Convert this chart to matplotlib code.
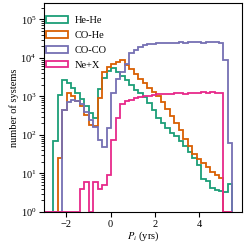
import numpy as np
import matplotlib
matplotlib.use("Agg")
import matplotlib.pyplot as plt
from matplotlib.patches import Patch

plt.rcParams["font.family"] = ["Liberation Serif", "DejaVu Serif"]
plt.rcParams["mathtext.fontset"] = "stix"
plt.rcParams["font.size"] = 7.5

# histogram bins in log10 P_i (yrs): 42 bins from -3 to 5.5
BIN_LO = -3.0
BIN_HI = 5.5
N_BINS = 42

LABELS = ["He-He", "CO-He", "CO-CO", "Ne+X"]
COLORS = ["#1b9e77", "#d95f02", "#7570b3", "#e7298a"]

# counts per bin
he_he = [0, 0, 68, 1100, 2650, 2200, 1700, 1200, 850, 560,
         360, 270, 1600, 3000, 4600, 5300, 4400, 3450, 2600, 2000,
         1500, 1200, 950, 660, 440, 280, 200, 148, 112, 93,
         71, 50, 35, 25, 16.5, 7, 6.3, 4.2, 3.8, 3.5,
         3.2, 5.2]
co_he = [0, 0, 0, 25, 440, 1190, 1000, 780, 560, 330,
         180, 170, 900, 4300, 5800, 6800, 7800, 8900, 6600, 5200,
         3800, 2900, 2200, 1660, 1320, 1050, 710, 480, 316, 200,
         135, 80, 50, 32, 23, 19, 15, 11, 9, 7.5,
         0, 0]
co_co = [0, 0, 0, 0, 450, 720, 800, 780, 620, 400,
         240, 160, 73, 48, 150, 1200, 2800, 4200, 7000, 13000,
         16500, 19500, 21000, 22500, 23500, 24000, 24500, 24800, 25000, 24700,
         25200, 25000, 25300, 25100, 25400, 25000, 25300, 25200, 25500, 25000,
         8700, 60]
ne_x = [0, 0, 0, 0, 0, 0, 0, 0, 4, 6,
        0, 6, 4, 5, 9, 75, 280, 630, 760, 830,
        900, 950, 1000, 1050, 1100, 1120, 1150, 1180, 1150, 1200,
        1220, 1180, 1240, 1260, 1220, 1280, 1250, 1300, 1260, 1240,
        0, 0]

SERIES = [he_he, co_he, co_co, ne_x]


def main():
    edges = np.linspace(BIN_LO, BIN_HI, N_BINS + 1)

    fig = plt.figure(figsize=(2.49, 2.43), dpi=100)
    ax = fig.add_axes([0.177, 0.128, 0.794, 0.858])

    handles = []
    for counts, label, color in zip(SERIES, LABELS, COLORS):
        vals = np.asarray(counts, dtype=float)
        # empty bins sit on the lower edge of the axes
        vals = np.where(vals > 0, vals, 1.0)
        ax.stairs(vals, edges, color=color, linewidth=1.3, baseline=1.0)
        handles.append(Patch(facecolor="none", edgecolor=color,
                             linewidth=1.3, label=label))

    ax.set_yscale("log")
    ax.set_xlim(-3.0, 5.92)
    ax.set_ylim(1, 2.6e5)
    ax.set_xticks([-2, 0, 2, 4])

    ax.set_xlabel(r"$P_i$ (yrs)", labelpad=1)
    ax.set_ylabel("number of systems", labelpad=1)
    ax.tick_params(labelsize=7.5, pad=2)

    ax.legend(handles=handles, loc="upper left", bbox_to_anchor=(0.0, 0.945),
              frameon=False, fontsize=7.5, borderaxespad=0.0, borderpad=0.15,
              handlelength=2.1, handleheight=0.6, handletextpad=0.65,
              labelspacing=0.55)

    fig.savefig("out.png", dpi=100)
    plt.close(fig)


if __name__ == "__main__":
    main()
